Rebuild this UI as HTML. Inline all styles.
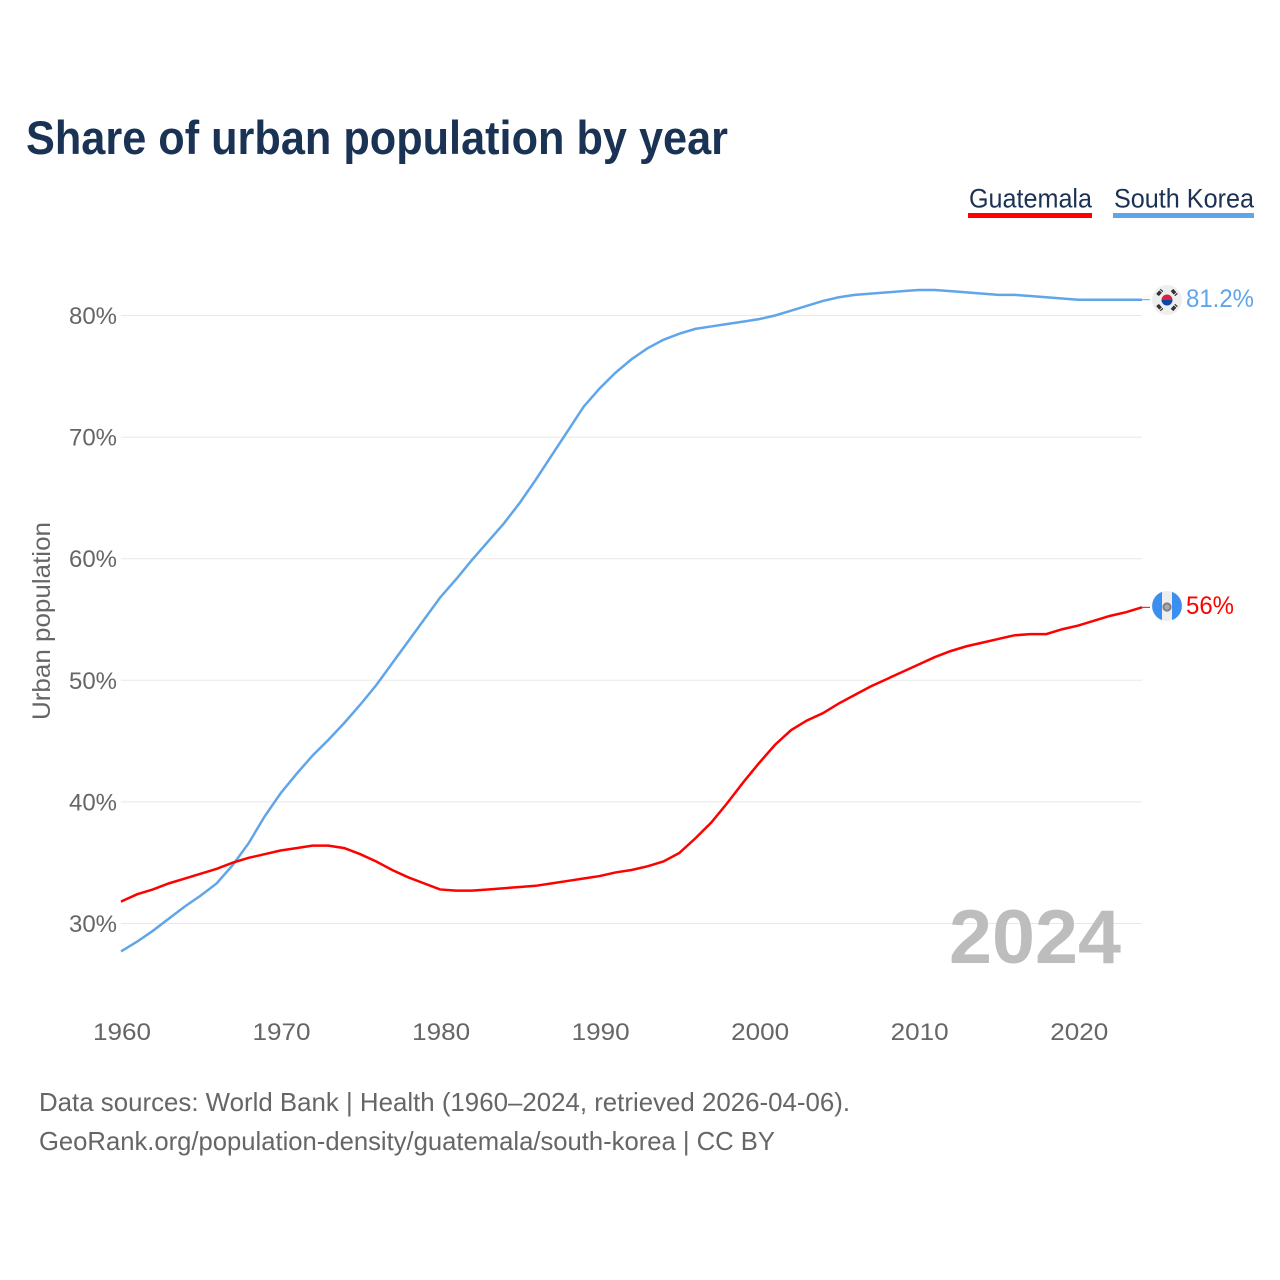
<!DOCTYPE html>
<html lang="en">
<head>
<meta charset="utf-8">
<title>Share of urban population by year</title>
<style>
html,body{margin:0;padding:0;background:#fff;width:1280px;height:1280px;overflow:hidden}
svg{display:block}
text{font-family:"Liberation Sans",sans-serif}
</style>
</head>
<body>
<svg id="chart" xmlns="http://www.w3.org/2000/svg" width="1280" height="1280" viewBox="0 0 1280 1280">
  <rect x="0" y="0" width="1280" height="1280" fill="#ffffff"/>
  <text x="26" y="154" font-size="47" font-weight="700" fill="#1a3354" textLength="702" lengthAdjust="spacingAndGlyphs">Share of urban population by year</text>

  <g>
    <g>
      <text x="969" y="207.5" font-size="27" fill="#1a3354" textLength="123" lengthAdjust="spacingAndGlyphs">Guatemala</text>
      <rect x="968" y="213" width="124" height="5" fill="#ff0000"/>
    </g>
    <g>
      <text x="1114" y="207.5" font-size="27" fill="#1a3354" textLength="140" lengthAdjust="spacingAndGlyphs">South Korea</text>
      <rect x="1113" y="213" width="141" height="5" fill="#60a5ea"/>
    </g>
  </g>

  <g id="grid"></g>
  <g id="yticks"></g>
  <g id="xticks"></g>
  <text transform="translate(50 621) rotate(-90)" text-anchor="middle" font-size="25" fill="#666666" textLength="198" lengthAdjust="spacingAndGlyphs">Urban population</text>

  <text x="949" y="963" font-size="76" font-weight="700" fill="#bdbdbd" textLength="172" lengthAdjust="spacingAndGlyphs">2024</text>

  <g id="series"></g>

  <g>
    <circle cx="1167" cy="300" r="15" fill="#eeeeee"/>
    <path d="M1161.5 300a5.5 5.5 0 0 1 11 0z" fill="#d8233f"/>
    <path d="M1161.5 300a5.5 5.5 0 0 0 11 0z" fill="#0c47a8"/>
    <g stroke="#333333" stroke-width="3.5" stroke-linecap="butt" stroke-dasharray="4.6 0.9">
      <path d="M1157.5 295l4.5-5"/>
      <path d="M1172 290l4.5 5"/>
      <path d="M1157.5 305l4.5 5"/>
      <path d="M1172 310l4.5-5"/>
    </g>
  </g>
  <g>
    <circle cx="1167" cy="606" r="15" fill="#eeeeee"/>
    <path d="M1162 591.9a15 15 0 0 0 0 28.2z" fill="#3a8ff0"/>
    <path d="M1172 591.9a15 15 0 0 1 0 28.2z" fill="#3a8ff0"/>
    <circle cx="1167" cy="607" r="3.6" fill="#aaaaaa" stroke="#808080" stroke-width="2"/>
  </g>

  <text x="1186" y="307" font-size="25" fill="#60a5ea" textLength="68" lengthAdjust="spacingAndGlyphs">81.2%</text>
  <text x="1186" y="614" font-size="25" fill="#ff0000" textLength="48" lengthAdjust="spacingAndGlyphs">56%</text>

  <text x="39" y="1111" font-size="26" fill="#666666" textLength="811" lengthAdjust="spacingAndGlyphs">Data sources: World Bank | Health (1960–2024, retrieved 2026-04-06).</text>
  <text x="39" y="1150" font-size="26" fill="#666666" textLength="736" lengthAdjust="spacingAndGlyphs">GeoRank.org/population-density/guatemala/south-korea | CC BY</text>
</svg>
<script>
const years = [1960,1961,1962,1963,1964,1965,1966,1967,1968,1969,1970,1971,1972,1973,1974,1975,1976,1977,1978,1979,1980,1981,1982,1983,1984,1985,1986,1987,1988,1989,1990,1991,1992,1993,1994,1995,1996,1997,1998,1999,2000,2001,2002,2003,2004,2005,2006,2007,2008,2009,2010,2011,2012,2013,2014,2015,2016,2017,2018,2019,2020,2021,2022,2023,2024];
const southKorea = [27.7,28.5,29.4,30.4,31.4,32.3,33.3,34.8,36.6,38.8,40.7,42.3,43.8,45.1,46.5,48.0,49.6,51.4,53.2,55.0,56.8,58.3,59.9,61.4,62.9,64.6,66.5,68.5,70.5,72.5,74.0,75.3,76.4,77.3,78.0,78.5,78.9,79.1,79.3,79.5,79.7,80.0,80.4,80.8,81.2,81.5,81.7,81.8,81.9,82.0,82.1,82.1,82.0,81.9,81.8,81.7,81.7,81.6,81.5,81.4,81.3,81.3,81.3,81.3,81.3];
const guatemala = [31.8,32.4,32.8,33.3,33.7,34.1,34.5,35.0,35.4,35.7,36.0,36.2,36.4,36.4,36.2,35.7,35.1,34.4,33.8,33.3,32.8,32.7,32.7,32.8,32.9,33.0,33.1,33.3,33.5,33.7,33.9,34.2,34.4,34.7,35.1,35.8,37.0,38.3,39.9,41.6,43.2,44.7,45.9,46.7,47.3,48.1,48.8,49.5,50.1,50.7,51.3,51.9,52.4,52.8,53.1,53.4,53.7,53.8,53.8,54.2,54.5,54.9,55.3,55.6,56.0];
const yTickValues = [30,40,50,60,70,80];
const yTickLabels = ["30%","40%","50%","60%","70%","80%"];
const xTickValues = [1960,1970,1980,1990,2000,2010,2020];
const xTickLabels = ["1960","1970","1980","1990","2000","2010","2020"];

const NS = "http://www.w3.org/2000/svg";
const xScale = function (year) { return 121 + (year - 1960) * (1142 - 121) / 64; };
const yScale = function (pct) { return 923.5 - (pct - 30) * 12.16; };

const gridGroup = document.getElementById("grid");
const yGroup = document.getElementById("yticks");
const xGroup = document.getElementById("xticks");
const seriesGroup = document.getElementById("series");

yTickValues.forEach(function (v, i) {
  const line = document.createElementNS(NS, "line");
  
  
  line.setAttribute("x1", xScale(1960));
  line.setAttribute("x2", xScale(2024));
  line.setAttribute("y1", yScale(v));
  line.setAttribute("y2", yScale(v));
  line.setAttribute("stroke", "#e8e8e8");
  line.setAttribute("stroke-width", "1");
  gridGroup.appendChild(line);

  const label = document.createElementNS(NS, "text");
  
  
  label.setAttribute("x", 69);
  label.setAttribute("y", yScale(v) + 8.5);
  label.setAttribute("font-size", "24");
  label.setAttribute("fill", "#666666");
  label.setAttribute("textLength", "48");
  label.setAttribute("lengthAdjust", "spacingAndGlyphs");
  label.textContent = yTickLabels[i];
  yGroup.appendChild(label);
});

xTickValues.forEach(function (v, i) {
  const label = document.createElementNS(NS, "text");
  
  
  label.setAttribute("x", xScale(v) - 28);
  label.setAttribute("y", 1040);
  label.setAttribute("font-size", "24");
  label.setAttribute("fill", "#666666");
  label.setAttribute("textLength", "58");
  label.setAttribute("lengthAdjust", "spacingAndGlyphs");
  label.textContent = xTickLabels[i];
  xGroup.appendChild(label);
});

function buildPoints(values) {
  return values.map(function (v, i) {
    return xScale(years[i]).toFixed(2) + "," + yScale(v).toFixed(2);
  }).join(" ");
}

function lastY(values) {
  return yScale(values[values.length - 1]);
}

const koreaLine = document.createElementNS(NS, "polyline");


koreaLine.setAttribute("points", buildPoints(southKorea));
koreaLine.setAttribute("fill", "none");
koreaLine.setAttribute("stroke", "#60a5ea");
koreaLine.setAttribute("stroke-width", "2.5");
seriesGroup.appendChild(koreaLine);

const guatemalaLine = document.createElementNS(NS, "polyline");


guatemalaLine.setAttribute("points", buildPoints(guatemala));
guatemalaLine.setAttribute("fill", "none");
guatemalaLine.setAttribute("stroke", "#ff0000");
guatemalaLine.setAttribute("stroke-width", "2.5");
seriesGroup.appendChild(guatemalaLine);

const koreaConnector = document.createElementNS(NS, "line");


koreaConnector.setAttribute("x1", xScale(2024));
koreaConnector.setAttribute("x2", xScale(2024) + 8);
koreaConnector.setAttribute("y1", lastY(southKorea));
koreaConnector.setAttribute("y2", lastY(southKorea));
koreaConnector.setAttribute("stroke", "#60a5ea");
koreaConnector.setAttribute("stroke-width", "1");
seriesGroup.appendChild(koreaConnector);

const guatemalaConnector = document.createElementNS(NS, "line");


guatemalaConnector.setAttribute("x1", xScale(2024));
guatemalaConnector.setAttribute("x2", xScale(2024) + 8);
guatemalaConnector.setAttribute("y1", lastY(guatemala));
guatemalaConnector.setAttribute("y2", lastY(guatemala));
guatemalaConnector.setAttribute("stroke", "#ff0000");
guatemalaConnector.setAttribute("stroke-width", "1");
seriesGroup.appendChild(guatemalaConnector);
</script>
</body>
</html>
